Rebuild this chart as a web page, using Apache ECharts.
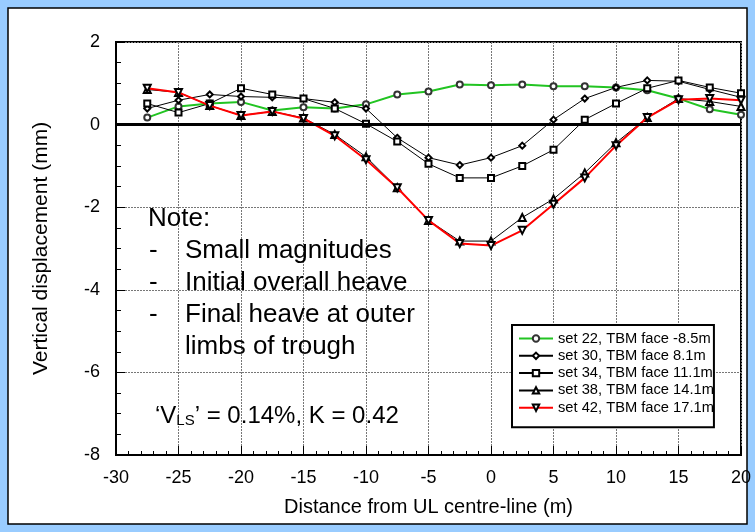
<!DOCTYPE html>
<html>
<head>
    <meta charset="utf-8">
    <title>Vertical displacement</title>
    <script src="https://cdn.jsdelivr.net/npm/echarts@6/dist/echarts.min.js"></script>
    <style>
        html, body { margin: 0; padding: 0; background: #99ccff; }
    </style>
</head>
<body>
<div id="main" style="width: 755px;height:532px;"></div>
<script type="text/javascript">
    // distance from UL centre-line (m)
    var distances = [-27.5, -25, -22.5, -20, -17.5, -15, -12.5, -10, -7.5, -5, -2.5, 0, 2.5, 5, 7.5, 10, 12.5, 15, 17.5, 20];

    // vertical displacement (mm) per survey set
    var set22 = [0.17, 0.44, 0.51, 0.55, 0.34, 0.42, 0.39, 0.49, 0.73, 0.80, 0.97, 0.95, 0.97, 0.93, 0.93, 0.90, 0.83, 0.63, 0.37, 0.24];
    var set30 = [0.39, 0.59, 0.73, 0.68, 0.66, 0.63, 0.54, 0.39, -0.32, -0.80, -0.98, -0.80, -0.51, 0.12, 0.63, 0.90, 1.07, 1.05, 0.85, 0.66];
    var set34 = [0.51, 0.29, 0.51, 0.88, 0.73, 0.63, 0.39, 0.02, -0.41, -0.95, -1.29, -1.29, -1.00, -0.61, 0.12, 0.51, 0.88, 1.07, 0.90, 0.76];
    var set38 = [0.85, 0.78, 0.46, 0.22, 0.32, 0.16, -0.24, -0.78, -1.53, -2.32, -2.82, -2.82, -2.25, -1.80, -1.17, -0.44, 0.17, 0.63, 0.56, 0.44];
    var set42 = [0.88, 0.78, 0.46, 0.22, 0.32, 0.15, -0.27, -0.85, -1.53, -2.32, -2.88, -2.93, -2.56, -1.93, -1.29, -0.51, 0.17, 0.60, 0.63, 0.59];

    var seriesNames = ['set 22, TBM face -8.5m', 'set 30, TBM face 8.1m', 'set 34, TBM face 11.1m',
        'set 38, TBM face 14.1m', 'set 42, TBM face 17.1m'];

    function pairs(values) {
        return distances.map(function (d, i) {
            return [d, values[i]];
        });
    }

    var chartDom = document.getElementById('main');
    var myChart = echarts.init(chartDom);
    var font = 'Liberation Sans, Arial, sans-serif';

    // note lines on the plot
    var noteStyle = { font: '26px ' + font, fill: '#000', verticalAlign: 'middle' };
    function noteText(x, y, text) {
        return {
            type: 'text', z: 100,
            style: Object.assign({ x: x, y: y, text: text }, noteStyle)
        };
    }

    var option = {
        animation: false,
        backgroundColor: '#99ccff',
        textStyle: { fontFamily: font },
        graphic: [
            {
                type: 'rect',
                z: -10,
                shape: { x: 8, y: 8, width: 739, height: 516 },
                style: { fill: '#ffffff', stroke: '#000000', lineWidth: 1.5 }
            },
            noteText(148, 219, 'Note:'),
            noteText(149, 251, '-'),
            noteText(185, 251, 'Small magnitudes'),
            noteText(149, 283, '-'),
            noteText(185, 283, 'Initial overall heave'),
            noteText(149, 315, '-'),
            noteText(185, 315, 'Final heave at outer'),
            noteText(185, 347, 'limbs of trough'),
            {
                type: 'text', z: 100,
                style: {
                    x: 155, y: 416,
                    verticalAlign: 'middle',
                    text: '{a|\u2018V}{s|LS}{a|\u2019 = 0.14%, K = 0.42}',
                    rich: {
                        a: { fontSize: 24, fontFamily: font, color: '#000', verticalAlign: 'bottom' },
                        s: { fontSize: 15, fontFamily: font, color: '#000', verticalAlign: 'bottom', padding: [10, 0, 0, 0] }
                    }
                }
            }
        ],
        grid: {
            left: 116,
            right: 14,
            top: 42,
            bottom: 77,
            show: true,
            borderColor: '#000',
            borderWidth: 2,
            backgroundColor: 'transparent'
        },
        legend: {
            orient: 'vertical',
            left: 512,
            top: 325,
            padding: [6, 0, 12, 6],
            itemGap: 2.3,
            itemWidth: 34,
            itemHeight: 8,
            backgroundColor: '#fff',
            borderColor: '#000',
            borderWidth: 2,
            textStyle: { fontSize: 14.7, lineHeight: 15, color: '#000', fontFamily: font },
            data: seriesNames
        },
        xAxis: {
            type: 'value',
            min: -30,
            max: 20,
            interval: 5,
            name: 'Distance from UL centre-line (m)',
            nameLocation: 'middle',
            nameGap: 42,
            nameTextStyle: { fontSize: 20, color: '#000', fontFamily: font },
            axisLine: { onZero: false, lineStyle: { color: '#000', width: 2 } },
            axisTick: { inside: true, length: 9, lineStyle: { color: '#000' } },
            minorTick: { show: true, splitNumber: 5, length: 4, lineStyle: { color: '#000' } },
            axisLabel: { fontSize: 18, color: '#000', margin: 14, fontFamily: font },
            splitLine: { show: true, lineStyle: { color: '#777', type: [2, 1], width: 1 } }
        },
        yAxis: {
            type: 'value',
            min: -8,
            max: 2,
            interval: 2,
            name: 'Vertical displacement (mm)',
            nameLocation: 'middle',
            nameGap: 64,
            nameTextStyle: { fontSize: 21, color: '#000', fontFamily: font },
            axisLine: { onZero: false, lineStyle: { color: '#000', width: 2 } },
            axisTick: { inside: true, length: 9, lineStyle: { color: '#000' } },
            minorTick: { show: true, splitNumber: 4, length: 5, lineStyle: { color: '#000' } },
            axisLabel: { fontSize: 18, color: '#000', margin: 16, fontFamily: font },
            splitLine: { show: true, lineStyle: { color: '#777', type: [2, 1], width: 1 } }
        },
        series: [
            {
                name: seriesNames[0],
                type: 'line',
                data: pairs(set22),
                symbol: 'emptyCircle',
                symbolSize: 6,
                itemStyle: { color: '#333', borderWidth: 1 },
                lineStyle: { color: '#22c422', width: 2 },
                z: 3,
                markLine: {
                    silent: true,
                    symbol: 'none',
                    label: { show: false },
                    lineStyle: { color: '#000', width: 3, type: 'solid' },
                    data: [{ yAxis: 0 }]
                }
            },
            {
                name: seriesNames[1],
                type: 'line',
                data: pairs(set30),
                symbol: 'emptyDiamond',
                symbolSize: 6,
                itemStyle: { color: '#000', borderWidth: 1 },
                lineStyle: { color: '#000', width: 1 }
            },
            {
                name: seriesNames[2],
                type: 'line',
                data: pairs(set34),
                symbol: 'emptyRect',
                symbolSize: 6,
                itemStyle: { color: '#000', borderWidth: 1 },
                lineStyle: { color: '#000', width: 1 }
            },
            {
                name: seriesNames[3],
                type: 'line',
                data: pairs(set38),
                symbol: 'emptyTriangle',
                symbolSize: 7,
                itemStyle: { color: '#000', borderWidth: 1 },
                lineStyle: { color: '#000', width: 1 }
            },
            {
                name: seriesNames[4],
                type: 'line',
                data: pairs(set42),
                symbol: 'emptyTriangle',
                symbolRotate: 180,
                symbolSize: 7,
                itemStyle: { color: '#000', borderWidth: 1.5 },
                lineStyle: { color: '#ff0000', width: 2 },
                z: 4
            }
        ]
    };

    if (option && typeof option === 'object') {
        myChart.setOption(option);
    }
</script>
</body>
</html>
